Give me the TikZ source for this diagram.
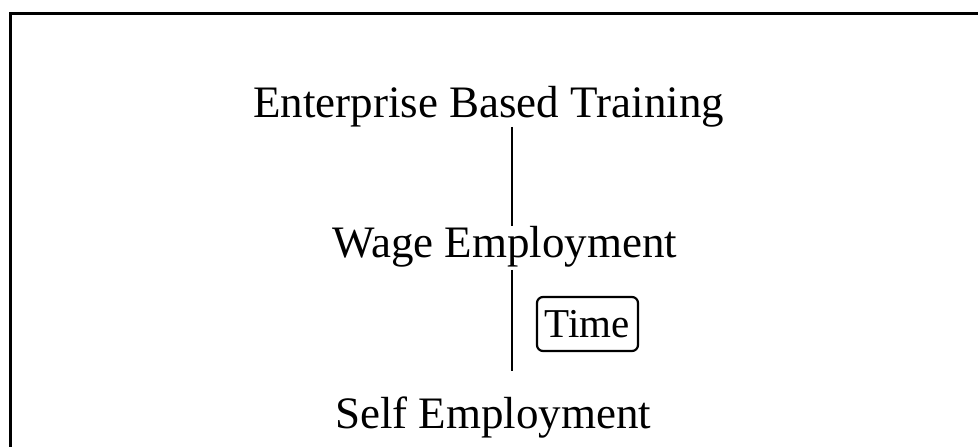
\documentclass[tikz,border=0pt]{standalone}
\usepackage{fontspec}
\setmainfont{Liberation Serif}
\usetikzlibrary{calc}
\begin{document}
\begin{tikzpicture}[x=1pt,y=-1pt,
  lbl/.style={anchor=base west, inner sep=0pt, font=\fontsize{45}{54}\selectfont},
  timebox/.style={draw, line width=2.2pt, rounded corners=6pt, minimum width=101pt, minimum height=54pt, inner sep=0pt, font=\fontsize{41}{49}\selectfont},
  link/.style={line width=2.5pt},
  frame/.style={line width=3.2pt}]
\useasboundingbox (0,0) rectangle (978,447);
\draw[frame] (10.5,447) -- (10.5,13.8) -- (978,13.8);
\coordinate (lx) at (512,0);
\node[lbl] (ebt) at (253,117) {Enterprise Based Training};
\node[lbl] (we) at (332,257) {Wage Employment};
\node[lbl] (se) at (335,428) {Self Employment};
\node[timebox] (time) at (587.5,324) {Time};
\draw[link] (ebt.south -| lx) -- (we.north -| lx);
\draw[link] ($(we.south -| lx)+(0,3)$) -- ($(se.north -| lx)+(0,-25)$);
\end{tikzpicture}
\end{document}
